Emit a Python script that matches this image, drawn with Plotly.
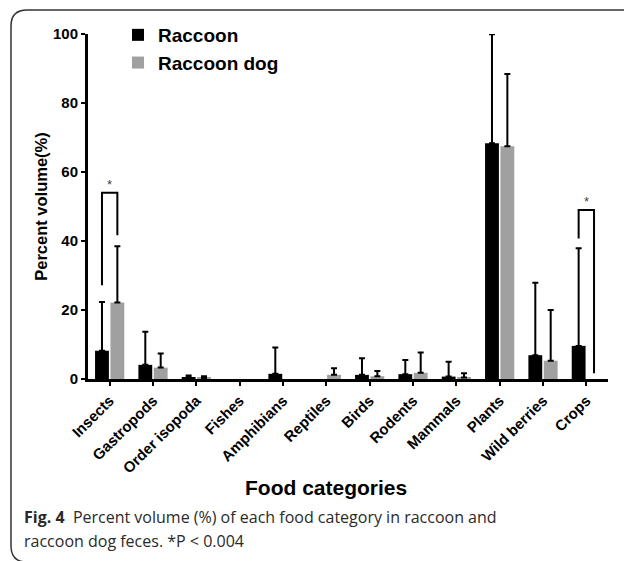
import plotly.graph_objects as go

categories = ["Insects", "Gastropods", "Order isopoda", "Fishes", "Amphibians", "Reptiles",
              "Birds", "Rodents", "Mammals", "Plants", "Wild berries", "Crops"]
raccoon_mean = [8.2, 4.1, 0.5, 0.0, 1.5, 0.0, 1.2, 1.4, 0.7, 68.3, 6.9, 9.6]
raccoon_upper = [22.3, 13.7, 1.0, 0.0, 9.1, 0.0, 6.0, 5.5, 5.0, 99.9, 27.9, 37.9]
dog_mean = [22.2, 3.3, 0.3, 0.0, 0.0, 1.2, 0.8, 1.8, 0.4, 67.5, 5.3, 0.0]
dog_upper = [38.5, 7.4, 0.8, 0.0, 0.0, 3.1, 2.3, 7.7, 1.7, 88.4, 20.0, 0.0]

W, H = 624, 561
ML, MR, MT, MB = 88, 16, 34, 182
PW, PH = W - ML - MR, H - MT - MB

def px2paper_x(px):
    return (px - ML) / PW

def px2paper_y(py):
    return (H - MB - py) / PH

FONT = "Liberation Sans, Arial, sans-serif"
CAPFONT = "Open Sans, sans-serif"
x_idx = list(range(len(categories)))

def shown(mean, upper):
    # categories with no recorded volume draw nothing
    return [m if u > 0 else None for m, u in zip(mean, upper)]

def err_plus(upper, mean):
    return [(u - m) if u > 0 else None for u, m in zip(upper, mean)]

fig = go.Figure()
fig.add_trace(go.Bar(
    name="<b>Raccoon</b>", x=x_idx, y=shown(raccoon_mean, raccoon_upper),
    marker_color="#000000", marker_line_width=0,
    error_y=dict(type="data", symmetric=False,
                 array=err_plus(raccoon_upper, raccoon_mean),
                 arrayminus=[0] * len(categories),
                 color="#000000", thickness=2, width=3),
))
fig.add_trace(go.Bar(
    name="<b>Raccoon dog</b>", x=x_idx, y=shown(dog_mean, dog_upper),
    marker_color="#a0a0a0", marker_line_width=0,
    error_y=dict(type="data", symmetric=False,
                 array=err_plus(dog_upper, dog_mean),
                 arrayminus=[0] * len(categories),
                 color="#000000", thickness=2, width=3),
))

off = 0.1775
shapes = []
brackets = [
    (0, 27.2, 54.0, 41.7),
    (11, 40.7, 49.0, 1.7),
]
for ci, yl, ytop, yr in brackets:
    shapes.append(dict(type="path", xref="x", yref="y",
                       path=f"M {ci-off},{yl} L {ci-off},{ytop} L {ci+off},{ytop} L {ci+off},{yr}",
                       line=dict(color="#000000", width=2)))

fx0, fy0, fx1, fy1, r = 11, 10, 660, 562, 16
path = (f"M {px2paper_x(fx1)},{px2paper_y(fy0)} L {px2paper_x(fx0 + r)},{px2paper_y(fy0)} "
        f"Q {px2paper_x(fx0)},{px2paper_y(fy0)} {px2paper_x(fx0)},{px2paper_y(fy0 + r)} "
        f"L {px2paper_x(fx0)},{px2paper_y(fy1 - r)} "
        f"Q {px2paper_x(fx0)},{px2paper_y(fy1)} {px2paper_x(fx0 + r)},{px2paper_y(fy1)} "
        f"L {px2paper_x(fx1)},{px2paper_y(fy1)}")
shapes.append(dict(type="path", xref="paper", yref="paper", path=path,
                   line=dict(color="#333333", width=1.5)))

annotations = [
    dict(x=0, y=56.5, xref="x", yref="y", text="*", showarrow=False,
         font=dict(family=FONT, size=13, color="#444444")),
    dict(x=11, y=51.4, xref="x", yref="y", text="*", showarrow=False,
         font=dict(family=FONT, size=13, color="#444444")),
    dict(x=px2paper_x(326), y=px2paper_y(487), xref="paper", yref="paper",
         text="<b>Food categories</b>", showarrow=False, xanchor="center", yanchor="middle",
         font=dict(family=FONT, size=21, color="#000000")),
    dict(x=px2paper_x(22), y=px2paper_y(517), xref="paper", yref="paper",
         text="<b>Fig. 4</b>  Percent volume (%) of each food category in raccoon and",
         showarrow=False, xanchor="left", yanchor="middle",
         font=dict(family=CAPFONT, size=16, color="#2a2a2a")),
    dict(x=px2paper_x(22), y=px2paper_y(541), xref="paper", yref="paper",
         text="raccoon dog feces. *P < 0.004",
         showarrow=False, xanchor="left", yanchor="middle",
         font=dict(family=CAPFONT, size=16, color="#2a2a2a")),
]

fig.update_layout(
    width=W, height=H,
    margin=dict(l=ML, r=MR, t=MT, b=MB, pad=0),
    paper_bgcolor="white", plot_bgcolor="white",
    barmode="group", bargap=0.29, bargroupgap=0.1,
    font=dict(family=FONT, color="#000000"),
    shapes=shapes, annotations=annotations,
    legend=dict(x=px2paper_x(118), y=px2paper_y(16), xanchor="left", yanchor="top",
                font=dict(family=FONT, size=19, color="#000000"),
                bgcolor="rgba(0,0,0,0)", traceorder="normal"),
    xaxis=dict(range=[-0.5, 11.5], tickmode="array", tickvals=x_idx,
               ticktext=[f"<b>{c}</b>" for c in categories], tickangle=-45,
               tickfont=dict(family=FONT, size=15, color="#000000"),
               showline=True, linecolor="#000000", linewidth=3,
               ticks="outside", ticklen=4, tickwidth=2, tickcolor="#000000",
               showgrid=False, zeroline=False),
    yaxis=dict(range=[0, 100], tickvals=[0, 20, 40, 60, 80, 100],
               ticktext=[f"<b>{v}</b>" for v in [0, 20, 40, 60, 80, 100]],
               tickfont=dict(family=FONT, size=15, color="#000000"),
               showline=True, linecolor="#000000", linewidth=3,
               ticks="outside", ticklen=4, tickwidth=2, tickcolor="#000000",
               showgrid=False, zeroline=False,
               title=dict(text="<b>Percent volume(%)</b>",
                          font=dict(family=FONT, size=16.5, color="#000000"), standoff=2)),
)

fig.write_html("out.html", config={"displayModeBar": False},
               post_script="document.body.style.margin='0';document.body.style.padding='0';")
